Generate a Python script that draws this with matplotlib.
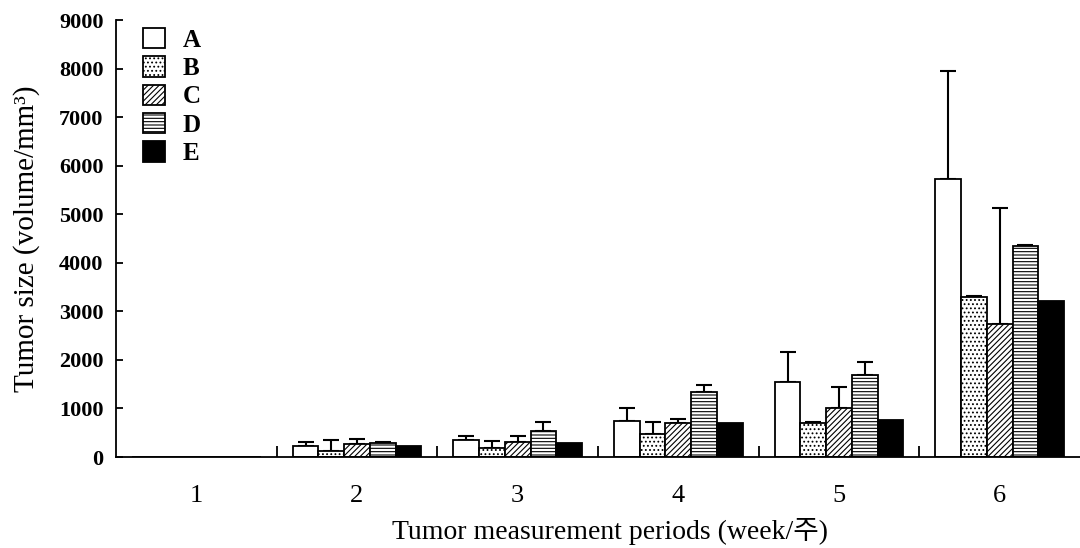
import numpy as np
import matplotlib.pyplot as plt

plt.rcParams['font.family'] = ['Liberation Serif', 'Noto Sans CJK KR']
plt.rcParams['hatch.linewidth'] = 0.8

# data
weeks = ['1', '2', '3', '4', '5', '6']
groups = ['A', 'B', 'C', 'D', 'E']
A = [0, 226, 350, 740, 1543, 5720]
B = [0, 123, 185, 473, 700, 3300]
C = [0, 267, 309, 700, 1008, 2737]
D = [0, 288, 535, 1337, 1687, 4341]
E = [0, 226, 288, 700, 761, 3210]
A_err = [0, 83, 82, 268, 617, 2230]
B_err = [0, 227, 145, 247, 20, 15]
C_err = [0, 103, 123, 82, 432, 2390]
D_err = [0, 12, 185, 144, 268, 30]
E_err = [0, 0, 0, 0, 0, 0]

values = [A, B, C, D, E]
errors = [A_err, B_err, C_err, D_err, E_err]
hatches = ['', '....', '//////', '-----', '']
faces = ['white', 'white', 'white', 'white', 'black']

fig = plt.figure(figsize=(10.8, 5.48), dpi=100)
ax = fig.add_axes([0.1074, 0.166, 0.8926, 0.7975])

x = np.arange(1, len(weeks) + 1)
w = 0.16
for i, (vals, errs) in enumerate(zip(values, errors)):
    pos = x + (i - 2) * w
    ax.bar(pos, vals, w, color=faces[i], edgecolor='black', hatch=hatches[i],
           linewidth=1.3, label=groups[i], zorder=2)
    vals = np.array(vals)
    errs = np.array(errs)
    m = errs > 0
    ax.errorbar(pos[m], vals[m], yerr=[np.zeros(m.sum()), errs[m]], fmt='none',
                ecolor='black', elinewidth=1.5, capsize=6, capthick=1.5, zorder=1)

ax.set_xlim(0.5, 6.5)
ax.set_ylim(0, 9000)
ax.set_yticks(np.arange(0, 9001, 1000))
ax.set_xticks(x)
ax.set_xticklabels(weeks)
ax.set_xticks(np.arange(1.5, 6.5, 1), minor=True)
ax.tick_params(axis='x', which='major', length=0, pad=20, labelsize=19)
ax.tick_params(axis='x', which='minor', direction='in', length=8, width=1.3)
ax.tick_params(axis='y', direction='in', length=5, width=1.3, labelsize=16, pad=9)
for lbl in ax.get_yticklabels():
    lbl.set_fontweight('bold')
for s in ['top', 'right']:
    ax.spines[s].set_visible(False)
for s in ['left', 'bottom']:
    ax.spines[s].set_linewidth(1.3)

ax.set_xlabel('Tumor measurement periods (week/주)', fontsize=20, labelpad=11)
ax.xaxis.set_label_coords(0.512, -0.14)
ax.set_ylabel('Tumor size (volume/mm³)', fontsize=21, labelpad=14)

leg = ax.legend(loc='upper left', bbox_to_anchor=(0.028, 0.982), frameon=False,
                borderaxespad=0, borderpad=0,
                handlelength=0.88, handleheight=0.88, handletextpad=0.7,
                labelspacing=0.18, prop={'weight': 'bold', 'size': 18})

fig.savefig('out.png', dpi=100)
